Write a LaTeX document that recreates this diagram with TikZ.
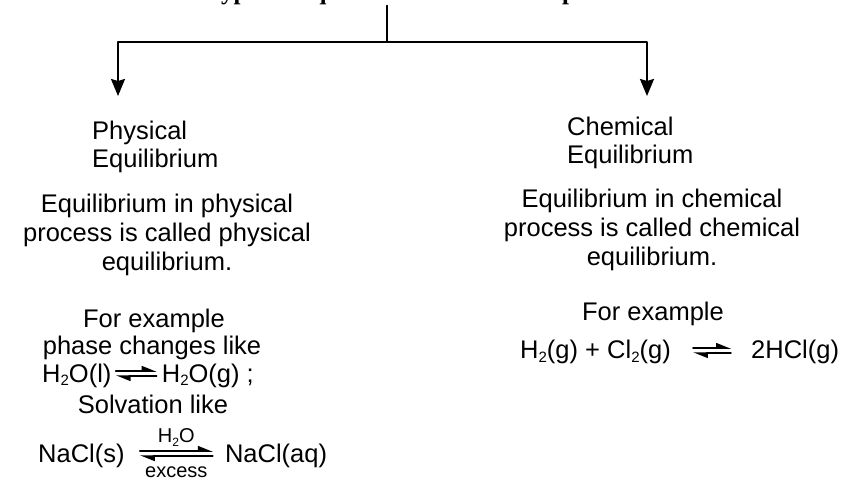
\documentclass[tikz,border=0pt]{standalone}
\usepackage{fontspec}
\setmainfont{Liberation Sans}
\newfontfamily\bannerfont{Liberation Serif}
\usetikzlibrary{arrows.meta,positioning}
\newcommand\sub[2][15]{\raisebox{-3.5pt}{\fontsize{#1}{#1}\selectfont#2}}
\tikzset{banner/.style={font=\bannerfont\bfseries\fontsize{25}{30}\selectfont,inner sep=0pt},
 head/.style={align=left,font=\fontsize{25.5}{28}\selectfont,inner sep=0pt},
 txt/.style={align=center,font=\fontsize{25.5}{29}\selectfont,inner sep=0pt},
 eqn/.style={font=\fontsize{25.5}{29}\selectfont,inner sep=0pt},
 small/.style={font=\fontsize{20}{22}\selectfont,inner sep=0pt},
 stem/.style={line width=2pt},
 link/.style={line width=2pt,-{Stealth[length=17pt,width=14pt,inset=2pt]}},
 harp/.style={line width=1.5pt,-{Stealth[harpoon,length=13pt,width=10pt,inset=0pt]}},
 every picture/.style={line join=round,line cap=round}}

\begin{document}
\begin{tikzpicture}[x=1pt,y=-1pt]
\useasboundingbox (0,0) rectangle (844,481);
\clip (0,0) rectangle (844,481);
% heading, cut by the top edge
\node[banner,anchor=base west] (banner) at (206,0) {Types of equilibrium in chemical process};
\coordinate (fork) at (387,42);
\coordinate (ltip) at (118,96);
\coordinate (rtip) at (647,96);
\draw[stem] (banner.south -| fork) -- (fork);
\draw[link] (fork) -| (ltip);
\draw[link] (fork) -| (rtip);
% physical
\node[head,anchor=north west] (phys) at (92,120.5) {Physical\\Equilibrium};
\node[txt,anchor=north] (physdef) at (167,193.5) {Equilibrium in physical\\process is called physical\\equilibrium.};
\node[txt,anchor=base] (physex) at (154,327) {For example};
\node[txt,anchor=base] (phase) at (152,355) {phase changes like};
\node[eqn,anchor=base west] (h2ol) at (42,382) {H\sub{2}O(l)};
\node[eqn,base right=50pt of h2ol] (h2og) {H\sub{2}O(g) ;};
\draw[harp] ([shift={(4pt,11pt)}]h2ol.base east) -- ([shift={(-5pt,11pt)}]h2og.base west);
\draw[harp] ([shift={(-5pt,6pt)}]h2og.base west) -- ([shift={(4pt,6pt)}]h2ol.base east);
\node[txt,anchor=base] (solv) at (153,413) {Solvation like};
\node[eqn,anchor=base west] (nacls) at (38,462) {NaCl(s)};
\node[eqn,base right=100pt of nacls] (naclaq) {NaCl(aq)};
\draw[harp] ([shift={(15pt,11pt)}]nacls.base east) -- ([shift={(-12pt,11pt)}]naclaq.base west)
  node[small,midway,above=4pt] (water) {H\sub[12]{2}O};
\draw[harp] ([shift={(-12pt,6pt)}]naclaq.base west) -- ([shift={(15pt,6pt)}]nacls.base east)
  node[small,midway,below=10pt] (excess) {excess};
% chemical
\node[head,anchor=north west] (chem) at (567,116.5) {Chemical\\Equilibrium};
\node[txt,anchor=north] (chemdef) at (652,188.5) {Equilibrium in chemical\\process is called chemical\\equilibrium.};
\node[txt,anchor=base] (chemex) at (653,320) {For example};
\node[eqn,anchor=base west] (react) at (520,359) {H\sub{2}(g) + Cl\sub{2}(g)};
\node[eqn,base right=80pt of react] (prod) {2HCl(g)};
\draw[harp] ([shift={(22pt,11pt)}]react.base east) -- ([shift={(-20pt,11pt)}]prod.base west);
\draw[harp] ([shift={(-20pt,6pt)}]prod.base west) -- ([shift={(22pt,6pt)}]react.base east);
\end{tikzpicture}
\end{document}
